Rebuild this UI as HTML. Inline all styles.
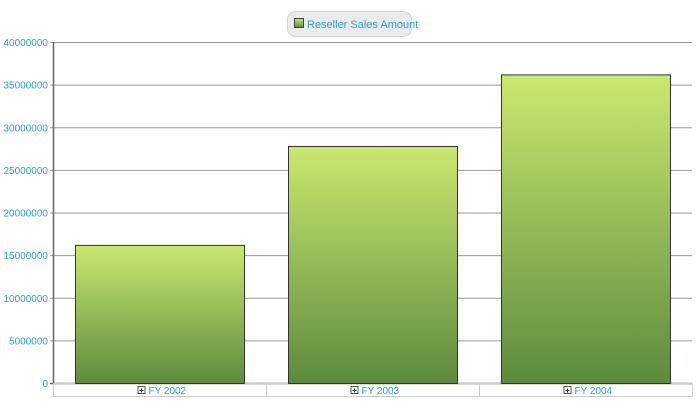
<!DOCTYPE html>
<html><head><meta charset="utf-8"><style>
body{margin:0;width:700px;height:402px;background:#fff;font-family:"Liberation Sans",sans-serif;overflow:hidden}
</style></head><body>
<svg id="c" width="700" height="402" xmlns="http://www.w3.org/2000/svg">
<defs><linearGradient id="g" x1="0" y1="0" x2="0" y2="1"><stop offset="0" stop-color="#cbe86f"/><stop offset="1" stop-color="#5d8a3e"/></linearGradient></defs>
<g>
<rect x="287.5" y="11.5" width="124" height="25" rx="8" fill="#ebebeb" stroke="#d4d4d4"/>
<rect x="294.5" y="18.5" width="9" height="9" fill="url(#g)" stroke="#444"/>
<text x="307" y="28" font-size="11" fill="#2a9fd6">Reseller Sales Amount</text>
</g>
</svg>
<script>
const categories=["FY 2002","FY 2003","FY 2004"];
const values=[16200000,27800000,36200000];
const ticks=[0,5000000,10000000,15000000,20000000,25000000,30000000,35000000,40000000];
const svg=document.getElementById('c');
const NS="http://www.w3.org/2000/svg";
const x0=53,x1=692,y0=383,y1=42,max=40000000;
const y=v=>y0-(v/max)*(y0-y1);
const band=(x1-x0)/categories.length;
function mk(t,a,p){const e=document.createElementNS(NS,t);for(const k in a)e.setAttribute(k,a[k]);(p||svg).appendChild(e);return e;}
ticks.forEach(t=>{
 const l=mk('line',{x1:x0-3,x2:x1,y1:y(t)+.5,y2:y(t)+.5,stroke:t===0?'#666':'#999','stroke-width':t===0?1.5:1});
 
 
 const tx=mk('text',{x:x0-5,y:y(t)+4,'font-size':10,fill:'#2a9fd6','text-anchor':'end'});
 tx.textContent=t;
 
 
});
const ax=mk('line',{x1:x0+.5,x2:x0+.5,y1:y1,y2:y0,stroke:'#666','stroke-width':1.5});


mk('rect',{x:x0+.5,y:y0+.5,width:x1-x0,height:13,fill:'none',stroke:'#ccc'});
categories.forEach((c,i)=>{
 const bx=x0+i*band;
 const b=mk('rect',{x:bx+22.5,y:y(values[i])+.5,width:band-44,height:y0-y(values[i]),fill:'url(#g)',stroke:'#333'});
 
 
 if(i>0)mk('line',{x1:bx+.5,x2:bx+.5,y1:y0,y2:y0+14,stroke:'#ccc'});
 const cx=bx+band/2;
 const bt=mk('rect',{x:cx-21.5,y:386.5,width:7,height:7,fill:'#fff',stroke:'#555'});
 
 
 mk('path',{d:`M${cx-20} 390.5h4M${cx-18} 388.5v4`,stroke:'#333'});
 const t=mk('text',{x:cx-11,y:394,'font-size':10,fill:'#2a9fd6'});
 t.textContent=c;
 
 
});
</script>
</body></html>
